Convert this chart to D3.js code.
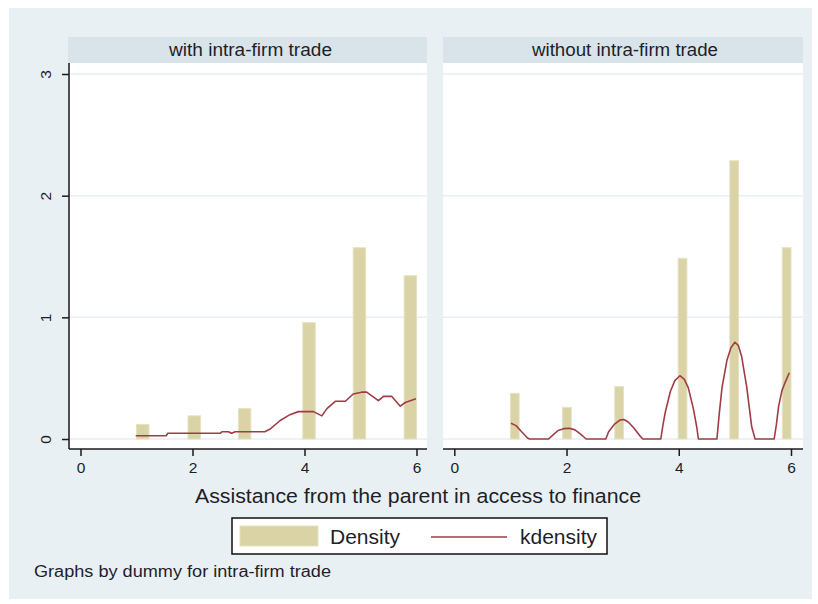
<!DOCTYPE html>
<html>
<head>
<meta charset="utf-8">
<script src="https://cdn.jsdelivr.net/npm/d3@7"></script>
<style>
  html, body { margin: 0; padding: 0; background: #ffffff; }
  svg { display: block; }
  text { font-family: "Liberation Sans", Arial, sans-serif; fill: #1e1e2a; }
</style>
</head>
<body>
<svg id="chart" width="818" height="604"></svg>
<script>
// Panel titles (by-group labels)
const panelTitles = ["with intra-firm trade", "without intra-firm trade"];

// Histogram bins: left edge of each bar, common bar width, and density height
const binStartWith = [1.0, 1.92, 2.82, 3.97, 4.87, 5.78];
const binWidthWith = 0.222;
const densityWith = [0.12, 0.19, 0.25, 0.956, 1.572, 1.342];

const binStartWithout = [1.0, 1.93, 2.86, 3.99, 4.91, 5.845];
const binWidthWithout = 0.155;
const densityWithout = [0.375, 0.26, 0.43, 1.485, 2.287, 1.572];

// Kernel density estimates (evaluation points and values)
const kdenWithX = [0.985, 1.53, 1.56, 2.5, 2.53, 2.64, 2.70, 2.76, 3.29, 3.38, 3.56, 3.74, 3.89, 4.16, 4.31, 4.40, 4.55, 4.73, 4.87, 5.02, 5.11, 5.32, 5.41, 5.56, 5.71, 5.80, 5.99];
const kdenWithY = [0.027, 0.027, 0.047, 0.047, 0.06, 0.06, 0.047, 0.06, 0.06, 0.08, 0.15, 0.20, 0.225, 0.225, 0.19, 0.25, 0.31, 0.31, 0.37, 0.385, 0.385, 0.315, 0.35, 0.35, 0.27, 0.30, 0.33];

const kdenWithoutX = [1.01, 1.1, 1.2, 1.3, 1.34, 1.68, 1.75, 1.85, 1.95, 2.05, 2.15, 2.25, 2.35, 2.70, 2.75, 2.85, 2.95, 3.02, 3.1, 3.2, 3.3, 3.36, 3.68, 3.72, 3.76, 3.85, 3.93, 4.02, 4.1, 4.17, 4.26, 4.32, 4.35, 4.68, 4.72, 4.77, 4.86, 4.93, 5.0, 5.06, 5.12, 5.21, 5.30, 5.36, 5.70, 5.74, 5.78, 5.84, 5.9, 5.97];
const kdenWithoutY = [0.13, 0.11, 0.06, 0.01, 0, 0, 0.03, 0.07, 0.085, 0.088, 0.075, 0.04, 0, 0, 0.06, 0.12, 0.155, 0.16, 0.14, 0.09, 0.03, 0, 0, 0.12, 0.22, 0.39, 0.48, 0.52, 0.49, 0.42, 0.25, 0.1, 0, 0, 0.2, 0.42, 0.65, 0.75, 0.795, 0.77, 0.68, 0.43, 0.10, 0, 0, 0.12, 0.27, 0.40, 0.47, 0.545];

// Axis ticks
const xTicks = [0, 2, 4, 6];
const yTicks = [0, 1, 2, 3];

const xTitle = "Assistance from the parent in access to finance";
const legendLabels = ["Density", "kdensity"];
const noteText = "Graphs by dummy for intra-firm trade";

const colors = {
  page: "#e9f0f3",
  strip: "#d8e4ea",
  grid: "#e7eff2",
  bar: "#d9d3a5",
  barEdge: "#e6e1c0",
  line: "#a03d44",
  axis: "#1a1a1a"
};

const svg = d3.select("#chart");

// Graph background
svg.append("rect")
  .attr("x", 9).attr("y", 8).attr("width", 803).attr("height", 591)
  .attr("fill", colors.page);

const yScale = d3.scaleLinear().domain([0, 3]).range([439, 74]);

const panels = [
  { title: panelTitles[0], titleLen: 163, left: 70, right: 427, x0: 80.5, x6: 416.5,
    starts: binStartWith, width: binWidthWith, dens: densityWith,
    kx: kdenWithX, ky: kdenWithY, yAxis: true },
  { title: panelTitles[1], titleLen: 186, left: 443, right: 803, x0: 454.3, x6: 791,
    starts: binStartWithout, width: binWidthWithout, dens: densityWithout,
    kx: kdenWithoutX, ky: kdenWithoutY, yAxis: false }
];

const plotTop = 63, axisY = 449;

panels.forEach(p => {
  const g = svg.append("g");
  const x = d3.scaleLinear().domain([0, 6]).range([p.x0, p.x6]);

  // strip header
  g.append("rect")
    .attr("x", p.left - (p.yAxis ? 2 : 0)).attr("y", 37)
    .attr("width", p.right - p.left + (p.yAxis ? 2 : 0)).attr("height", plotTop - 37)
    .attr("fill", colors.strip);
  g.append("text")
    .attr("x", (p.left + p.right) / 2 + 2).attr("y", 55.5)
    .attr("text-anchor", "middle").attr("font-size", 17.5)
    .attr("textLength", p.titleLen).attr("lengthAdjust", "spacingAndGlyphs")
    .text(p.title);

  // plot region
  g.append("rect")
    .attr("x", p.left).attr("y", plotTop)
    .attr("width", p.right - p.left).attr("height", axisY - plotTop)
    .attr("fill", "#ffffff");

  // horizontal grid lines
  g.selectAll("line.grid").data(yTicks).join("line")
    .attr("class", "grid")
    .attr("x1", p.left).attr("x2", p.right)
    .attr("y1", d => yScale(d)).attr("y2", d => yScale(d))
    .attr("stroke", colors.grid).attr("stroke-width", 1.5);

  // histogram bars
  g.selectAll("rect.bar").data(p.starts).join("rect")
    .attr("class", "bar")
    .attr("x", d => x(d))
    .attr("width", d => x(d + p.width) - x(d))
    .attr("y", (d, i) => yScale(p.dens[i]))
    .attr("height", (d, i) => yScale(0) - yScale(p.dens[i]))
    .attr("fill", colors.bar)
    .attr("stroke", colors.barEdge).attr("stroke-width", 1);

  // kernel density line
  const pts = p.kx.map((v, i) => [v, p.ky[i]]);
  g.append("path")
    .datum(pts)
    .attr("d", d3.line().x(d => x(d[0])).y(d => yScale(d[1])))
    .attr("fill", "none")
    .attr("stroke", colors.line).attr("stroke-width", 1.6)
    .attr("stroke-linejoin", "round");

  // x axis
  const xAxis = g.append("g")
    .attr("transform", `translate(0,${axisY})`)
    .call(d3.axisBottom(x).tickValues(xTicks).tickSize(7).tickPadding(6).tickFormat(d3.format("d")));
  xAxis.select(".domain").remove();
  xAxis.append("line")
    .attr("x1", p.left - (p.yAxis ? 1 : 0)).attr("x2", p.right)
    .attr("stroke", colors.axis).attr("stroke-width", 1.5);
  xAxis.selectAll(".tick line").attr("stroke", colors.axis).attr("stroke-width", 1.5);
  xAxis.selectAll(".tick text")
    .attr("font-size", 15.5).attr("fill", "#1e1e2a")
    .attr("font-family", "Liberation Sans, Arial, sans-serif");

  // y axis (left panel only)
  if (p.yAxis) {
    const yAxis = g.append("g")
      .attr("transform", `translate(${p.left - 1},0)`)
      .call(d3.axisLeft(yScale).tickValues(yTicks).tickSize(7).tickPadding(0).tickFormat(d3.format("d")));
    yAxis.select(".domain").remove();
    yAxis.append("line")
      .attr("y1", plotTop).attr("y2", axisY)
      .attr("stroke", colors.axis).attr("stroke-width", 1.5);
    yAxis.selectAll(".tick line").attr("stroke", colors.axis).attr("stroke-width", 1.5);
    yAxis.selectAll(".tick text")
      .attr("font-size", 15.5).attr("fill", "#1e1e2a")
      .attr("font-family", "Liberation Sans, Arial, sans-serif")
      .attr("text-anchor", "middle")
      .attr("x", null).attr("dy", null)
      .attr("transform", "translate(-23,0) rotate(-90)")
      .attr("y", 5);
  }
});

// x axis title
svg.append("text")
  .attr("x", 418).attr("y", 503)
  .attr("text-anchor", "middle").attr("font-size", 20.5)
  .attr("textLength", 446).attr("lengthAdjust", "spacingAndGlyphs")
  .text(xTitle);

// legend
const lg = svg.append("g");
lg.append("rect")
  .attr("x", 232).attr("y", 518).attr("width", 375).attr("height", 36)
  .attr("fill", "#ffffff").attr("stroke", "#111111").attr("stroke-width", 1.5);
lg.append("rect")
  .attr("x", 240).attr("y", 526).attr("width", 78).attr("height", 20)
  .attr("fill", colors.bar).attr("stroke", colors.barEdge).attr("stroke-width", 1);
lg.append("text")
  .attr("x", 330).attr("y", 544).attr("font-size", 21)
  .text(legendLabels[0]);
lg.append("line")
  .attr("x1", 431).attr("x2", 507).attr("y1", 537).attr("y2", 537)
  .attr("stroke", colors.line).attr("stroke-width", 1.6);
lg.append("text")
  .attr("x", 520).attr("y", 544).attr("font-size", 21)
  .text(legendLabels[1]);

// note
svg.append("text")
  .attr("x", 34).attr("y", 577).attr("font-size", 16)
  .attr("textLength", 297).attr("lengthAdjust", "spacingAndGlyphs")
  .text(noteText);
</script>
</body>
</html>
